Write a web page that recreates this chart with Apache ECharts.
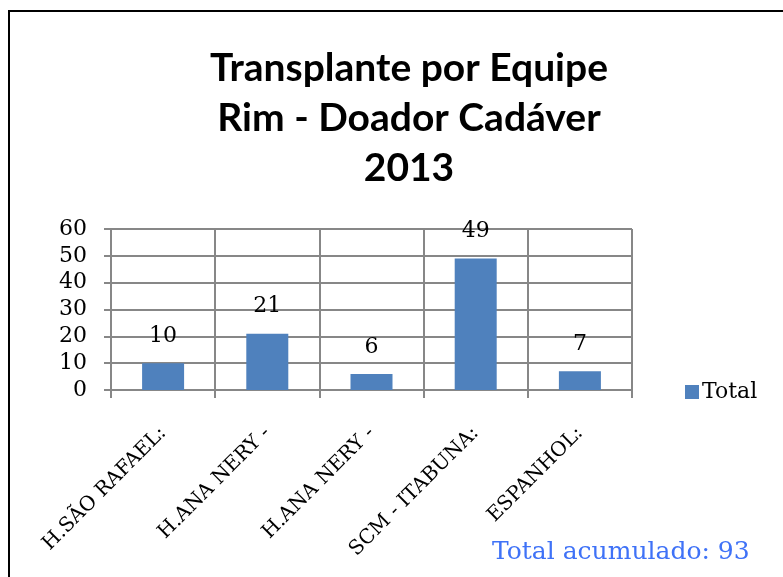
<!DOCTYPE html>
<html>
<head>
    <meta charset="utf-8">
    <title>Transplante por Equipe</title>
    <script src="https://cdn.jsdelivr.net/npm/echarts@6/dist/echarts.min.js"></script>
    <style>
        body { margin: 0; background: #fff; }
    </style>
</head>
<body>
<div id="main" style="width: 783px; height: 577px;"></div>
<script>
    // dados
    var equipes = ['H.SÃO RAFAEL:', 'H.ANA NERY -', 'H.ANA NERY -', 'SCM - ITABUNA:', 'ESPANHOL:'];
    var totais = [10, 21, 6, 49, 7];
    var yTicks = [0, 10, 20, 30, 40, 50, 60];
    var tituloLinhas = ['Transplante por Equipe', 'Rim - Doador Cadáver', '2013'];
    var totalAcumulado = 'Total acumulado: 93';

    var serif = 'DejaVu Serif';
    var gridColor = '#878787';

    var myChart = echarts.init(document.getElementById('main'));

    var option = {
        animation: false,
        title: {
            text: tituloLinhas.join('\n'),
            left: 404,
            textAlign: 'center',
            top: 38,
            textStyle: {
                fontFamily: 'Lato',
                fontWeight: 'bold',
                fontSize: 39,
                lineHeight: 50,
                color: '#000'
            }
        },
        legend: {
            left: 680,
            top: 376,
            itemWidth: 14,
            itemHeight: 14,
            itemGap: 5,
            icon: 'rect',
            data: ['Total'],
            textStyle: { fontFamily: serif, fontSize: 22, color: '#000', padding: [0, 0, 0, -2] }
        },
        grid: {
            left: 111,
            right: 151,
            top: 229,
            bottom: 187
        },
        xAxis: {
            type: 'category',
            data: equipes,
            axisLine: { lineStyle: { color: gridColor, width: 2 } },
            axisTick: { show: true, length: 8, lineStyle: { color: gridColor, width: 2 } },
            splitLine: { show: true, interval: 0, lineStyle: { color: gridColor, width: 2 } },
            axisLabel: {
                interval: 0,
                rotate: 45,
                margin: 40,
                fontFamily: serif,
                fontSize: 20,
                color: '#000'
            }
        },
        yAxis: {
            type: 'value',
            min: yTicks[0],
            max: yTicks[yTicks.length - 1],
            interval: 10,
            axisLine: { show: true, lineStyle: { color: gridColor, width: 2 } },
            axisTick: { show: true, length: 7, lineStyle: { color: gridColor, width: 2 } },
            splitLine: { show: true, lineStyle: { color: gridColor, width: 2 } },
            axisLabel: {
                margin: 24,
                fontFamily: serif,
                fontSize: 22,
                color: '#000'
            }
        },
        series: [{
            name: 'Total',
            type: 'bar',
            data: totais,
            barWidth: 42,
            itemStyle: { color: '#4f81bd' },
            label: {
                show: true,
                position: 'top',
                distance: 16,
                fontFamily: serif,
                fontSize: 22,
                color: '#000'
            }
        }],
        graphic: [{
            type: 'rect',
            shape: { x: 9, y: 11, width: 800, height: 620 },
            style: { fill: 'none', stroke: '#000', lineWidth: 2 },
            silent: true
        }, {
            type: 'text',
            left: 492,
            top: 540,
            style: {
                text: totalAcumulado,
                fontFamily: serif,
                fontSize: 25,
                fill: '#3f72f7'
            }
        }]
    };

    myChart.setOption(option);
</script>
</body>
</html>
